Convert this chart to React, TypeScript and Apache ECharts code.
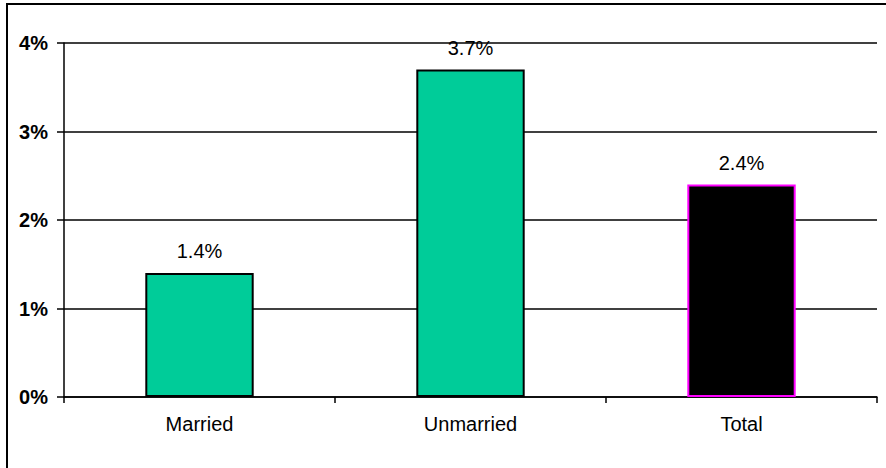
import React, { useEffect, useRef } from "react";
import * as echarts from "echarts";

const categories = ["Married", "Unmarried", "Total"];
const values = [1.4, 3.7, 2.4];
const barColors = ["#00CC99", "#00CC99", "#000000"];
const borderColors = ["#000000", "#000000", "#FF00FF"];
const yTicks = [0, 1, 2, 3, 4];

export default function App() {
  const ref = useRef<HTMLDivElement>(null);
  useEffect(() => {
    if (!ref.current) return;
    const chart = echarts.init(ref.current, undefined, { renderer: "svg" });
    chart.setOption({
      animation: false,
      backgroundColor: "#ffffff",
      grid: { left: 64, right: 9, top: 43, bottom: 71, containLabel: false },
      graphic: [
        {
          type: "rect",
          shape: { x: 7, y: 4, width: 900, height: 500 },
          style: { fill: "none", stroke: "#000", lineWidth: 2 },
          silent: true,
        },
      ],
      xAxis: {
        type: "category",
        data: categories,
        axisLine: { lineStyle: { color: "#000", width: 1.5 } },
        axisTick: { show: true, length: 6, lineStyle: { color: "#000", width: 1.5 }, alignWithLabel: false },
        axisLabel: { color: "#000", fontSize: 20, fontFamily: "Liberation Sans, Arial, sans-serif", margin: 17 },
      },
      yAxis: {
        type: "value",
        min: yTicks[0],
        max: yTicks[yTicks.length - 1],
        interval: 1,
        axisLine: { show: true, lineStyle: { color: "#000", width: 1.5 } },
        axisTick: { show: true, length: 7, lineStyle: { color: "#000", width: 1.5 } },
        splitLine: { show: true, lineStyle: { color: "#000", width: 1.5 } },
        axisLabel: {
          color: "#000",
          fontSize: 20,
          fontWeight: "bold",
          fontFamily: "Liberation Sans, Arial, sans-serif",
          margin: 16,
          formatter: (v: number) => `${v}%`,
        },
      },
      series: [
        {
          type: "bar",
          barWidth: "40%",
          data: values.map((v, i) => ({
            value: v,
            itemStyle: { color: barColors[i], borderColor: borderColors[i], borderWidth: 2 },
          })),
          label: {
            show: true,
            position: "top",
            distance: 12,
            color: "#000",
            fontSize: 20,
            fontFamily: "Liberation Sans, Arial, sans-serif",
            formatter: (p: any) => `${p.value.toFixed(1)}%`,
          },
        },
      ],
    });
    return () => chart.dispose();
  }, []);
  return (
    <div
      ref={ref}
      style={{ position: "absolute", left: 0, top: 0, width: 886, height: 468 }}
    />
  );
}
